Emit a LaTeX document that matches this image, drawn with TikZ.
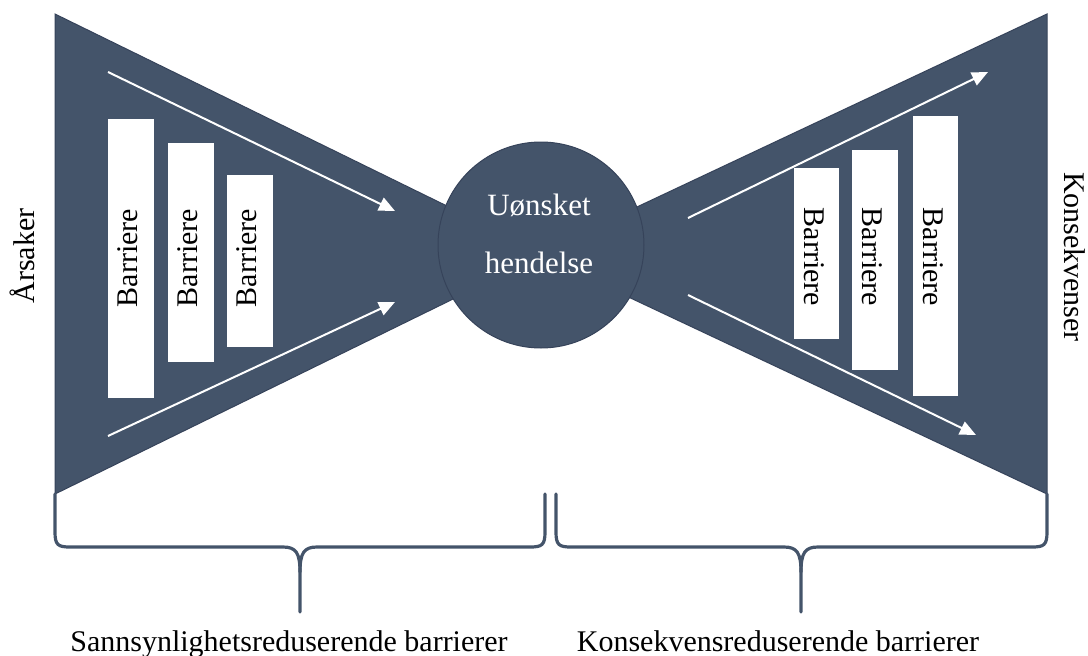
\documentclass[tikz,border=0pt]{standalone}
\usepackage{fontspec}
\setmainfont{Liberation Serif}
\usetikzlibrary{arrows.meta}
\definecolor{slate}{HTML}{44546A}
\definecolor{slatedark}{HTML}{36435A}
\begin{document}
\begin{tikzpicture}[x=1pt,y=-1pt,
  lbl/.style={font=\fontsize{30}{36}\selectfont, inner sep=0pt},
  barbox/.style={fill=white, draw=none, inner sep=0pt},
  flow/.style={draw=white, line width=2pt, -{Triangle[length=16pt,width=14pt]}},
  brace/.style={draw=slate, line width=3.2pt, line cap=round, line join=round},
  wing/.style={fill=slate, draw=slatedark, line width=1pt}]
\useasboundingbox (0,0) rectangle (1088,656);

% wings of the bow-tie
\path[wing] (55,14) -- (545,254) -- (55,494) -- cycle;
\path[wing] (1047,14) -- (537,254) -- (1047,494) -- cycle;

% central event
\node[circle, fill=slate, draw=slatedark, line width=1pt, minimum size=206pt, inner sep=0pt] (event) at (541,245) {};
\node[font=\fontsize{31}{58}\selectfont, text=white, align=center, inner sep=0pt] (eventtext) at (539,234) {Uønsket\\hendelse};

% left barriers
\node[barbox, minimum width=46pt, minimum height=279pt] (bl1) at (131,258.5) {};
\node[barbox, minimum width=46pt, minimum height=219pt] (bl2) at (191,252.5) {};
\node[barbox, minimum width=46pt, minimum height=172pt] (bl3) at (250,261) {};
\node[lbl, rotate=90] (tl1) at (128,258) {Barriere};
\node[lbl, rotate=90] (tl2) at (188,258) {Barriere};
\node[lbl, rotate=90] (tl3) at (247,258) {Barriere};

% right barriers
\node[barbox, minimum width=45pt, minimum height=171pt] (br1) at (816.5,253.5) {};
\node[barbox, minimum width=46pt, minimum height=220pt] (br2) at (875,260) {};
\node[barbox, minimum width=45pt, minimum height=280pt] (br3) at (935.5,256) {};
\node[lbl, rotate=-90] (tr1) at (814,257) {Barriere};
\node[lbl, rotate=-90] (tr2) at (872,257) {Barriere};
\node[lbl, rotate=-90] (tr3) at (933,257) {Barriere};

% flow arrows
\coordinate (la1) at (108,72);  \coordinate (la2) at (395,211);
\coordinate (lb1) at (108,436); \coordinate (lb2) at (395,302);
\coordinate (ra1) at (688,218); \coordinate (ra2) at (988,72);
\coordinate (rb1) at (688,295); \coordinate (rb2) at (976,435);
\draw[flow] (la1) -- (la2);
\draw[flow] (lb1) -- (lb2);
\draw[flow] (ra1) -- (ra2);
\draw[flow] (rb1) -- (rb2);

% side labels
\node[lbl, rotate=90] (causes) at (22,256) {Årsaker};
\node[lbl, rotate=-90] (conseq) at (1075,257) {Konsekvenser};

% braces
\draw[brace] (55,494) -- (55,532) .. controls (55,545) and (58,547) .. (70,547) -- (283,547)
  .. controls (296,547) and (300,553) .. (300,572) -- (300,612);
\draw[brace] (300,572) .. controls (300,553) and (304,547) .. (317,547) -- (530,547)
  .. controls (542,547) and (545,545) .. (545,532) -- (545,494);
\draw[brace] (556,494) -- (556,532) .. controls (556,545) and (559,547) .. (571,547) -- (784,547)
  .. controls (797,547) and (801,553) .. (801,572) -- (801,612);
\draw[brace] (801,572) .. controls (801,553) and (805,547) .. (818,547) -- (1032,547)
  .. controls (1044,547) and (1047,545) .. (1047,532) -- (1047,494);

\node[lbl, anchor=base] (leftlbl) at (289,651) {Sannsynlighetsreduserende barrierer};
\node[lbl, anchor=base] (rightlbl) at (778,651) {Konsekvensreduserende barrierer};
\end{tikzpicture}
\end{document}
